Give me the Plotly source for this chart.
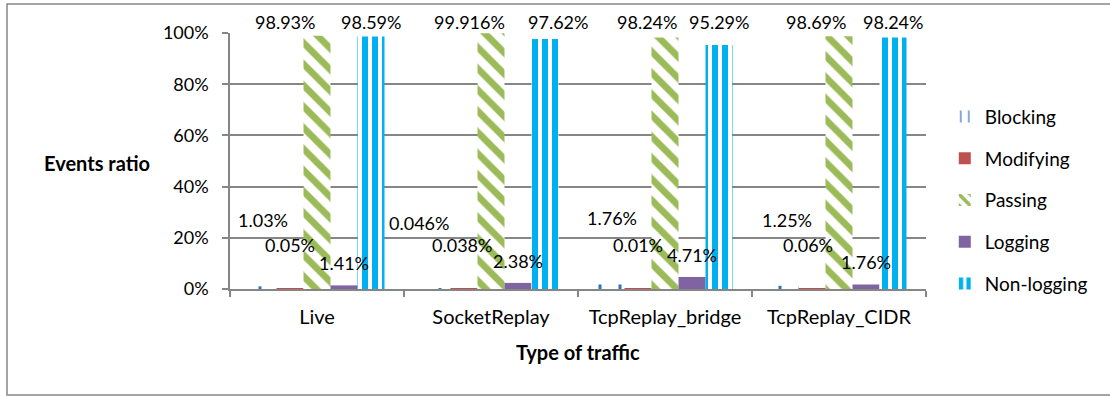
import plotly.graph_objects as go

# Traffic types on the x axis
categories = ["Live", "SocketReplay", "TcpReplay_bridge", "TcpReplay_CIDR"]

# Share of events per action, in percent
blocking = [1.03, 0.046, 1.76, 1.25]
modifying = [0.05, 0.038, 0.01, 0.06]
passing = [98.93, 99.916, 98.24, 98.69]
logging = [1.41, 2.38, 4.71, 1.76]
non_logging = [98.59, 97.62, 95.29, 98.24]

y_ticks = [0, 20, 40, 60, 80, 100]

FONT = "Lato"
GRAY = "#868686"


def stripes(shape, color, size, solidity):
    return dict(color="white",
                pattern=dict(shape=shape, fgcolor=color, bgcolor="white", fgopacity=1,
                             fillmode="replace", size=size, solidity=solidity))


series = [
    ("Blocking", blocking, stripes("|", "#2E75B6", 20, 0.15)),
    ("Modifying", modifying, dict(color="#C0504D")),
    ("Passing", passing, stripes("\\", "#9BBB59", 15, 0.45)),
    ("Logging", logging, dict(color="#8064A2")),
    ("Non-logging", non_logging, stripes("|", "#00B0F0", 10, 0.6)),
]

fig = go.Figure()
for i, (name, vals, marker) in enumerate(series):
    fig.add_trace(go.Bar(
        name=name, x=categories, y=[v / 100 for v in vals],
        marker=dict(line=dict(width=0), **marker),
        legendgroup=name,
    ))

# Label placement: pixel offset of each series' bar from the category centre,
# plus small per-label nudges
bar_px = 27.0
nudge_x = {
    "Blocking": [0, -18, 1, 1.5],
    "Modifying": [-0.5, -2, -0.5, -4],
    "Passing": [-32, -21.5, -18, -23.5],
    "Logging": [0, 0, 0, 0],
    "Non-logging": [0, 12.5, 0, 0],
}
lift_px = {"Blocking": 66, "Modifying": 44, "Logging": 22}

annotations = []
for i, (name, vals, _) in enumerate(series):
    for j, v in enumerate(vals):
        dx = (i - 2) * bar_px + nudge_x[name][j]
        text = f"{v}%"
        if name in ("Passing", "Non-logging"):
            annotations.append(dict(x=categories[j], y=1.043, xref="x", yref="paper",
                                    xshift=dx, text=text, showarrow=False,
                                    font=dict(family=FONT, size=18, color="black"),
                                    yanchor="middle"))
        else:
            annotations.append(dict(x=categories[j], y=v / 100, xref="x", yref="y",
                                    xshift=dx, yshift=lift_px[name], text=text, showarrow=False,
                                    font=dict(family=FONT, size=18, color="black"),
                                    yanchor="middle"))

annotations.append(dict(text="<b>Events ratio</b>", x=-0.191, y=0.492, xref="paper", yref="paper",
                        showarrow=False, xanchor="center", yanchor="middle",
                        font=dict(family=FONT, size=20, color="black")))
annotations.append(dict(text="<b>Type of traffic</b>", x=0.5, y=-0.246, xref="paper", yref="paper",
                        showarrow=False, xanchor="center", yanchor="middle",
                        font=dict(family=FONT, size=20, color="black")))

fig.update_layout(
    width=1110, height=396,
    margin=dict(l=230, r=184, t=33, b=107),
    paper_bgcolor="white", plot_bgcolor="white",
    barmode="group", bargap=0.224, bargroupgap=0,
    font=dict(family=FONT, size=18, color="black"),
    showlegend=True,
    legend=dict(x=1.027, y=0.747, xanchor="left", yanchor="top",
                font=dict(family=FONT, size=19, color="black"),
                tracegroupgap=14, traceorder="grouped",
                bgcolor="rgba(0,0,0,0)"),
    annotations=annotations,
    shapes=[dict(type="rect", xref="paper", yref="paper",
                 x0=-0.3204, x1=1.267, y0=-0.414, y1=1.113,
                 line=dict(color=GRAY, width=1.5), fillcolor="rgba(0,0,0,0)", layer="below")],
)

fig.update_xaxes(
    type="category", showline=True, linecolor=GRAY, linewidth=2,
    ticks="outside", tickson="boundaries", ticklen=6, tickcolor=GRAY, tickwidth=1.5,
    showgrid=False, ticklabelstandoff=9,
    tickfont=dict(family=FONT, size=20, color="black"),
)
fig.update_yaxes(
    range=[0, 1], tickvals=[t / 100 for t in y_ticks], ticktext=[f"{t}%" for t in y_ticks],
    showline=True, linecolor=GRAY, linewidth=1.5,
    ticks="outside", ticklen=6, tickcolor=GRAY, tickwidth=1.5,
    showgrid=True, gridcolor=GRAY, gridwidth=1.5, zeroline=False,
    ticklabelstandoff=10,
    tickfont=dict(family=FONT, size=18, color="black"),
)

fig.write_html("out.html")
